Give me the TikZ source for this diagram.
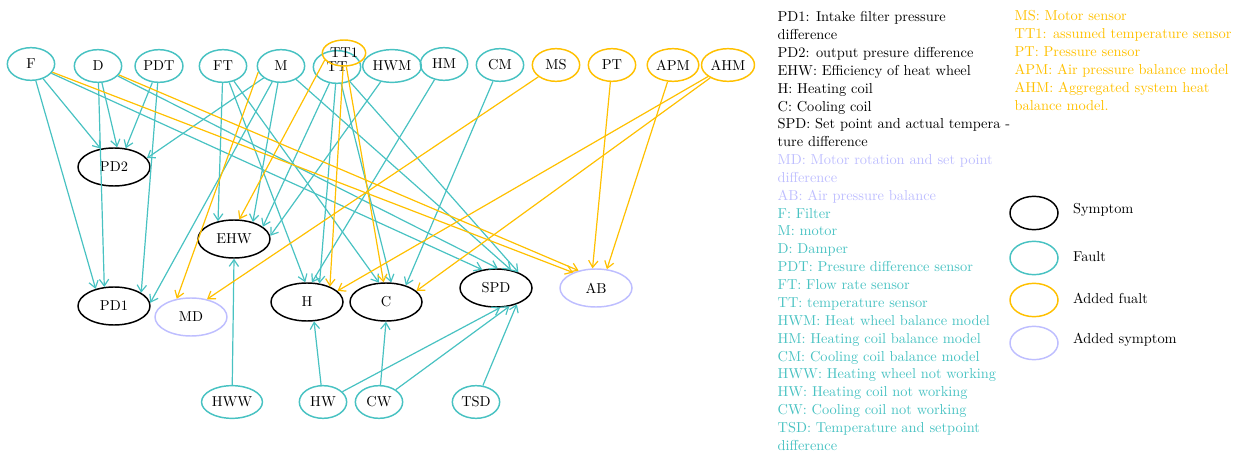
\documentclass[tikz,border=0pt]{standalone}
\usetikzlibrary{arrows.meta,shapes.geometric}
\definecolor{faultc}{RGB}{72,194,194}
\definecolor{addc}{RGB}{255,192,0}
\definecolor{addsymc}{RGB}{190,190,255}

\begin{document}
\begin{tikzpicture}[x=0.75pt,y=-0.75pt,->,>={Straight Barb[length=5pt,width=7pt]},line width=0.9pt,
  every node/.style={font=\fontsize{10.8}{13.4}\selectfont},
  sym/.style={draw,ellipse,line width=1.1pt,minimum width=54pt,minimum height=28.5pt,inner sep=1pt},
  asym/.style={sym,draw=addsymc},
  flt/.style={draw=faultc,ellipse,line width=1.1pt,minimum width=35.5pt,minimum height=24.5pt,inner sep=1pt},
  aflt/.style={flt,draw=addc},
  key/.style={minimum width=36pt,minimum height=25pt},
  names/.style={anchor=north west,align=left,inner sep=0pt},
  fe/.style={draw=faultc},
  ae/.style={draw=addc}]

\path[use as bounding box] (0,0) rectangle (1235,452);

% top row: faults
\node[flt] (f) at (31,64) {F};
\node[flt] (d) at (98,66) {D};
\node[flt] (pdt) at (159,66) {PDT};
\node[flt] (ft) at (223,66) {FT};
\node[flt] (m) at (281,66) {M};
\node[flt] (tt) at (337,67) {TT};
\node[aflt,minimum width=28pt,minimum height=19.5pt] (tt1) at (344,53) {TT1};
\node[flt] (hwm) at (392,66) {HWM};
\node[flt] (hm) at (444,64) {HM};
\node[flt] (cm) at (500,65) {CM};
\node[aflt] (ms) at (556,65) {MS};
\node[aflt] (pt) at (612,65) {PT};
\node[aflt] (apm) at (673,65) {APM};
\node[aflt] (ahm) at (728,65) {AHM};

% symptoms
\node[sym] (pd2) at (114,167) {PD2};
\node[sym] (pd1) at (114,306) {PD1};
\node[sym] (ehw) at (234,239) {EHW};
\node[sym] (h) at (307,302) {H};
\node[sym] (c) at (386,302) {C};
\node[sym] (spd) at (496,288) {SPD};
\node[asym] (md) at (191,317) {MD};
\node[asym] (ab) at (596,288) {AB};

% bottom row: faults
\node[flt] (hww) at (232,402) {HWW};
\node[flt] (hw) at (323,402) {HW};
\node[flt] (cw) at (379,402) {CW};
\node[flt] (tsd) at (476,402) {TSD};

\path (f) edge[fe] (pd2.126);
\path (f) edge[fe] (pd1.137);
\path (f) edge[fe] (spd.127);
\path (d) edge[fe] (pd2.81);
\path (d) edge[fe] (pd1.117);
\path (d) edge[fe] (spd.85);
\path (pdt) edge[fe] (pd2.58);
\path (pdt) edge[fe] (pd1.26);
\path (ft) edge[fe] (ehw.132);
\path (ft) edge[fe] (h.95);
\path (ft) edge[fe] (c.110);
\path (m) edge[fe] (pd2.15);
\path (m) edge[fe] (pd1.5);
\path (m) edge[fe] (ehw.42);
\path (m) edge[fe] (spd.50);
\path (tt) edge[fe] (ehw.23);
\path (tt) edge[fe] (h.56);
\path (tt) edge[fe] (c.75);
\path (tt) edge[fe] (spd.35);
\path (hwm) edge[fe] (ehw.5);
\path (hm) edge[fe] (h.76);
\path (cm) edge[fe] (c.40);
\path (hww) edge[fe] (ehw.-90);
\path (hw) edge[fe] (h.-70);
\path (hw) edge[fe] (spd.-78);
\path (cw) edge[fe] (c.-90);
\path (cw) edge[fe] (spd.-54);
\path (tsd) edge[fe] (spd.-38);

\path (f) edge[ae] (ab.146);
\path (d) edge[ae] (ab.135);
\path (m.-165) edge[ae] (md.128);
\path (tt1.-160) edge[ae] (ehw.75);
\path (tt1) edge[ae] (h.34);
\path (tt1) edge[ae] (c.97);
\path (ms) edge[ae] (md.48);
\path (pt) edge[ae] (ab.100);
\path (apm) edge[ae] (ab.60);
\path (ahm) edge[ae] (h.20);
\path (ahm) edge[ae] (c.20);

% legend
\node[names] (symnames) at (777,11) {PD1: Intake filter pressure\\
difference\\
PD2: output presure difference\\
EHW: Efficiency of heat wheel\\
H: Heating coil\\
C: Cooling coil\\
SPD: Set point and actual tempera -\\
ture difference};
\node[names,text=addsymc] (asymnames) at (777,154) {MD: Motor rotation and set point\\
difference\\
AB: Air pressure balance};
\node[names,text=faultc] (fltnames) at (777,207.5) {F: Filter\\
M: motor\\
D: Damper\\
PDT: Presure difference sensor\\
FT: Flow rate sensor\\
TT: temperature sensor\\
HWM: Heat wheel balance model\\
HM: Heating coil balance model\\
CM: Cooling coil balance model\\
HWW: Heating wheel not working\\
HW: Heating coil not working\\
CW: Cooling coil not working\\
TSD: Temperature and setpoint\\
difference};
\node[names,text=addc] (afltnames) at (1014,10) {MS: Motor sensor\\
TT1: assumed temperature sensor\\
PT: Pressure sensor\\
APM: Air pressure balance model\\
AHM: Aggregated system heat\\
balance model.};

\node[sym,key] (k1) at (1034,213) {};
\node[flt,key] (k2) at (1034,258) {};
\node[aflt,key] (k3) at (1034,300) {};
\node[asym,key] (k4) at (1034,343) {};
\node[anchor=west] (t1) at (1068,210) {Symptom};
\node[anchor=west] (t2) at (1068,257) {Fault};
\node[anchor=west] (t3) at (1068,298) {Added fualt};
\node[anchor=west] (t4) at (1068,340) {Added symptom};

\end{tikzpicture}
\end{document}
